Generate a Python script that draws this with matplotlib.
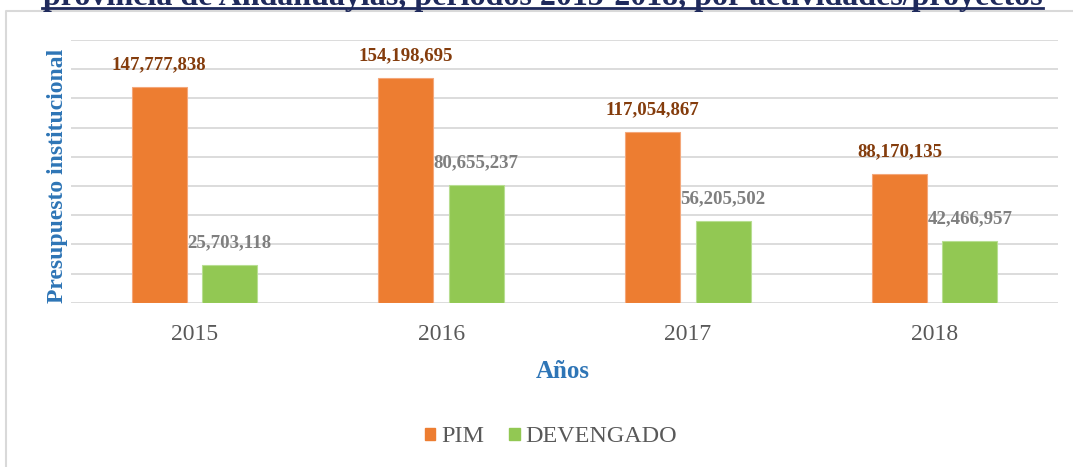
import numpy as np
import matplotlib
matplotlib.use('Agg')
import matplotlib.pyplot as plt
from matplotlib.lines import Line2D
from matplotlib.patches import Patch

plt.rcParams['font.family'] = ['Liberation Serif', 'DejaVu Serif']

# data
years = ['2015', '2016', '2017', '2018']
pim = [147777838, 154198695, 117054867, 88170135]
devengado = [25703118, 80655237, 56205502, 42466957]

orange = '#ED7D31'
green = '#92C853'
blue = '#2E75B6'
W, H = 1073, 467

fig = plt.figure(figsize=(W / 100, H / 100), dpi=100)
ax = fig.add_axes([71 / W, 1 - 302.7 / H, (1058 - 71) / W, (302.7 - 40) / H])

x = np.arange(len(years))
off, bw = 0.1425, 0.223
ax.bar(x - off, pim, bw, color=orange, edgecolor='#F4A77A', linewidth=0.8, zorder=3)
ax.bar(x + off, devengado, bw, color=green, edgecolor='#B8DE92', linewidth=0.8, zorder=3)

for xi, v in zip(x, pim):
    ax.annotate(f'{v:,}', (xi - off, v), xytext=(0, 16), textcoords='offset points',
                ha='center', va='center', fontsize=13.6, fontweight='bold', color='#843C0C')
for xi, v in zip(x, devengado):
    ax.annotate(f'{v:,}', (xi + off, v), xytext=(0, 16), textcoords='offset points',
                ha='center', va='center', fontsize=13.6, fontweight='bold', color='#7F7F7F')

ax.set_xlim(-0.5, 3.5)
ax.set_ylim(0, 180000000)
ax.set_yticks(np.arange(0, 180000001, 20000000))
ax.yaxis.grid(True, color='#D9D9D9', linewidth=1.3, zorder=0)
ax.set_yticklabels([])
ax.tick_params(axis='both', length=0)
for s in ax.spines.values():
    s.set_visible(False)
ax.set_xticks(x)
ax.set_xticklabels(years, fontsize=17, color='#595959')
ax.tick_params(axis='x', pad=15)

fig.text(563 / W, 1 - 371 / H, 'Años', ha='center', va='center',
         fontsize=18, fontweight='bold', color=blue)
fig.text(57 / W, 1 - 176 / H, 'Presupuesto institucional', rotation=90,
         ha='center', va='center', fontsize=17, fontweight='bold', color=blue)

handles = [Patch(color=orange), Patch(color=green)]
fig.legend(handles, ['PIM', 'DEVENGADO'], loc='center', bbox_to_anchor=(551 / W, 1 - 437 / H),
           ncol=2, frameon=False, fontsize=17.4, labelcolor='#595959',
           handlelength=0.42, handleheight=0.42, handletextpad=0.25, columnspacing=1.05)

# chart frame and cut-off title
fig.add_artist(Line2D([6 / W, 6 / W, 1], [0, 1 - 11 / H, 1 - 11 / H],
                      transform=fig.transFigure, color='#D9D9D9', linewidth=1.5))
fig.text(542.5 / W, 1 - 5 / H, 'provincia de Andahuaylas, periodos 2015-2018, por actividades/proyectos',
         ha='center', va='baseline', fontsize=23, fontweight='bold', color='#1F2A5C')
fig.add_artist(Line2D([42 / W, 1043 / W], [1 - 8 / H, 1 - 8 / H],
                      transform=fig.transFigure, color='#1F2A5C', linewidth=2))

fig.savefig('out.png', dpi=100)
